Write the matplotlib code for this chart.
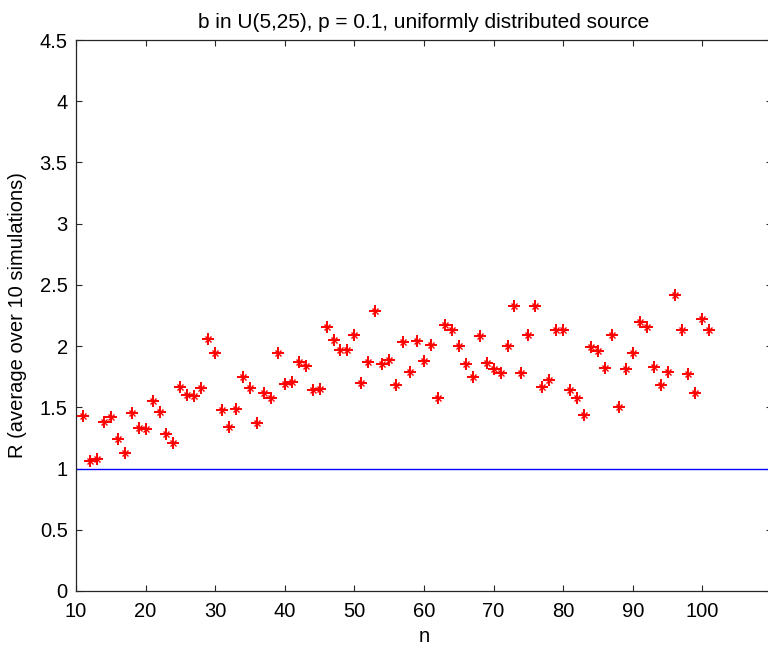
import numpy as np
import matplotlib
matplotlib.use('Agg')
import matplotlib.pyplot as plt

# n values and averaged R
n_values = list(range(11, 102))
r_values = [
    1.43, 1.06, 1.08, 1.38, 1.42, 1.24, 1.13, 1.45, 1.33, 1.32,   # 11-20
    1.55, 1.46, 1.28, 1.21, 1.67, 1.60, 1.59, 1.66, 2.06, 1.94,   # 21-30
    1.48, 1.34, 1.49, 1.75, 1.66, 1.37, 1.62, 1.58, 1.94, 1.69,   # 31-40
    1.71, 1.87, 1.84, 1.64, 1.65, 2.16, 2.05, 1.97, 1.97, 2.09,   # 41-50
    1.70, 1.87, 2.29, 1.85, 1.89, 1.68, 2.03, 1.79, 2.04, 1.88,   # 51-60
    2.01, 1.58, 2.17, 2.13, 2.00, 1.85, 1.75, 2.08, 1.86, 1.81,   # 61-70
    1.78, 2.00, 2.33, 1.78, 2.09, 2.33, 1.67, 1.72, 2.13, 2.13,   # 71-80
    1.64, 1.58, 1.44, 1.99, 1.96, 1.82, 2.09, 1.50, 1.81, 1.94,   # 81-90
    2.20, 2.16, 1.83, 1.68, 1.79, 2.42, 2.13, 1.77, 1.62, 2.22,   # 91-100
    2.13,                                                         # 101
]
x_limits = [10, 110]
y_limits = [0, 4.5]
x_ticks = list(range(10, 101, 10))
y_ticks = [0, 0.5, 1, 1.5, 2, 2.5, 3, 3.5, 4, 4.5]
y_tick_labels = ['0', '0.5', '1', '1.5', '2', '2.5', '3', '3.5', '4', '4.5']
baseline = 1.0

plt.rcParams['font.family'] = ['Liberation Sans', 'DejaVu Sans']
fs = 14.5

fig = plt.figure(figsize=(7.68, 6.46), dpi=100)
fig.patch.set_facecolor('white')
# axes runs past the right edge of the figure, like the cropped original
ax = fig.add_axes([76 / 768, 55 / 646, 696 / 768, 551 / 646])

ax.plot(x_limits, [baseline, baseline], color='#0000ff', linewidth=1.0, zorder=2)
ax.plot(n_values, r_values, linestyle='none', marker='+', markersize=8,
        markeredgewidth=1.4, color='#ff0000', zorder=3)
ax.plot(n_values, r_values, linestyle='none', marker='x', markersize=4.8,
        markeredgewidth=1.0, color='#ff0000', zorder=3)

ax.set_xlim(x_limits)
ax.set_ylim(y_limits)
ax.set_xticks(x_ticks)
ax.set_yticks(y_ticks)
ax.set_yticklabels(y_tick_labels)
ax.tick_params(direction='in', length=4.5, width=0.8, labelsize=fs,
               top=True, right=True, colors='#262626', labelcolor='black')
ax.tick_params(axis='x', pad=8)
ax.tick_params(axis='y', pad=6)
for sp in ax.spines.values():
    sp.set_linewidth(0.9)
    sp.set_color('#262626')

ax.set_title('b in U(5,25), p = 0.1, uniformly distributed source', fontsize=15, pad=9)
ax.set_xlabel('n', fontsize=fs, labelpad=4)
ax.set_ylabel('R (average over 10 simulations)', fontsize=fs, labelpad=9)

fig.savefig('out.png', dpi=100)
